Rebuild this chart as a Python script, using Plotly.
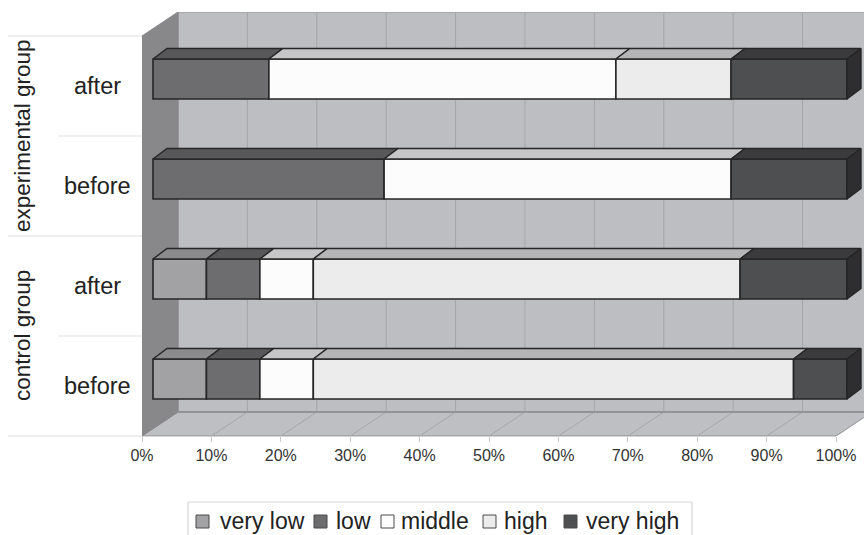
import plotly.graph_objects as go

# ---- data -----------------------------------------------------------------
row_labels = ["before", "after", "before", "after"]          # bottom -> top
group_labels = ["control group", "experimental group"]
series_names = ["very low", "low", "middle", "high", "very high"]

very_low = [7.7, 7.7, 0.0, 0.0]
low = [7.7, 7.7, 33.3, 16.7]
middle = [7.7, 7.7, 50.0, 50.0]
high = [69.2, 61.5, 0.0, 16.6]
very_high = [7.7, 15.4, 16.7, 16.7]

tick_values = [0, 10, 20, 30, 40, 50, 60, 70, 80, 90, 100]
tick_labels = [f"{v}%" for v in tick_values]

# ---- styling --------------------------------------------------------------
front_colors = ["#a2a2a5", "#6d6d6f", "#fcfcfc", "#ececec", "#4e4f51"]
top_colors = ["#8b8b8e", "#58585a", "#c6c6c8", "#b5b5b7", "#3b3b3d"]
side_color = "#2e2d2f"
edge_color = "#262626"
FONT = "Liberation Sans, Arial, sans-serif"
TEXT_COL = "#222222"

W, H = 864, 535
ML, MR, MT, MB = 142, 0, 12, 99
PW, PH = W - ML - MR, H - MT - MB
SX = 6.94          # pixels per percent
SY = 100.0         # pixels per category row
XMAX = PW / SX
YMAX = PH / SY

# oblique depth offsets (in data units)
WALL_DX, WALL_DY = 36 / SX, 24 / SY     # back wall depth
FRONT_DX, FRONT_DY = 11 / SX, 7 / SY    # bar front plane
BAR_DX, BAR_DY = 14 / SX, 10.5 / SY     # bar depth
BAR_H = 40 / SY

series = [very_low, low, middle, high, very_high]
n_rows = len(row_labels)
centers = [i + 0.5 for i in range(n_rows)]


def px_x(p):
    return (p - ML) / PW


def px_y(p):
    return (H - MB - p) / PH


fig = go.Figure()

# ---- front faces of the stacked bars --------------------------------------
starts = [0.0] * n_rows
seg_bounds = []
for name, vals, fc in zip(series_names, series, front_colors):
    bases = list(starts)
    fig.add_trace(go.Bar(
        orientation="h",
        y=[c + FRONT_DY for c in centers],
        x=[v if v > 0 else None for v in vals],
        base=[b + FRONT_DX for b in bases],
        width=BAR_H,
        marker=dict(color=fc, line=dict(color=edge_color, width=1.6)),
        name=name, showlegend=False, hoverinfo="skip",
    ))
    seg_bounds.append([(b, b + v) for b, v in zip(bases, vals)])
    starts = [b + v for b, v in zip(bases, vals)]

# ---- top faces ------------------------------------------------------------
for k, tc in enumerate(top_colors):
    xs, ys = [], []
    for r, (a, b) in enumerate(seg_bounds[k]):
        if b - a <= 0:
            continue
        y_top = centers[r] + FRONT_DY + BAR_H / 2
        x0, x1 = a + FRONT_DX, b + FRONT_DX
        xs += [x0, x1, x1 + BAR_DX, x0 + BAR_DX, x0, None]
        ys += [y_top, y_top, y_top + BAR_DY, y_top + BAR_DY, y_top, None]
    fig.add_trace(go.Scatter(
        x=xs, y=ys, mode="lines", fill="toself", fillcolor=tc,
        line=dict(color=edge_color, width=1.4),
        showlegend=False, hoverinfo="skip",
    ))

# ---- right end faces ------------------------------------------------------
xs, ys = [], []
for r in range(n_rows):
    end = starts[r] + FRONT_DX
    y_bot = centers[r] + FRONT_DY - BAR_H / 2
    y_top = centers[r] + FRONT_DY + BAR_H / 2
    xs += [end, end, end + BAR_DX, end + BAR_DX, end, None]
    ys += [y_bot, y_top, y_top + BAR_DY, y_bot + BAR_DY, y_bot, None]
fig.add_trace(go.Scatter(
    x=xs, y=ys, mode="lines", fill="toself", fillcolor=side_color,
    line=dict(color=edge_color, width=1.4),
    showlegend=False, hoverinfo="skip",
))

# ---- walls, floor and gridlines -------------------------------------------
shapes = []
wall_fill = "#bdbec2"
floor_fill = "#bebfc3"
side_wall = "#88888b"
grid_col = "#a5a5a9"
rim_col = "#8f8f92"

# back wall
shapes.append(dict(type="rect", xref="x", yref="y", layer="below",
                   x0=WALL_DX, x1=100 + WALL_DX, y0=WALL_DY, y1=n_rows + WALL_DY,
                   fillcolor=wall_fill, line=dict(color=rim_col, width=1)))
# floor
shapes.append(dict(type="path", xref="x", yref="y", layer="below",
                   path=f"M0,0 L100,0 L{100 + WALL_DX},{WALL_DY} L{WALL_DX},{WALL_DY} Z",
                   fillcolor=floor_fill, line=dict(color=rim_col, width=1)))
# left wall
shapes.append(dict(type="path", xref="x", yref="y", layer="below",
                   path=f"M0,0 L0,{n_rows} L{WALL_DX},{n_rows + WALL_DY} L{WALL_DX},{WALL_DY} Z",
                   fillcolor=side_wall, line=dict(color=side_wall, width=1)))
# gridlines on the back wall and floor
for v in tick_values[1:]:
    shapes.append(dict(type="line", xref="x", yref="y", layer="below",
                       x0=v + WALL_DX, x1=v + WALL_DX, y0=WALL_DY, y1=n_rows + WALL_DY,
                       line=dict(color=grid_col, width=1)))
    shapes.append(dict(type="line", xref="x", yref="y", layer="below",
                       x0=v, x1=v + WALL_DX, y0=0, y1=WALL_DY,
                       line=dict(color=grid_col, width=1)))
# floor / back wall seam
shapes.append(dict(type="line", xref="x", yref="y", layer="below",
                   x0=WALL_DX, x1=100 + WALL_DX, y0=WALL_DY, y1=WALL_DY,
                   line=dict(color=rim_col, width=1.5)))
# front edge of the floor
shapes.append(dict(type="line", xref="x", yref="paper", layer="below",
                   x0=0, x1=100, y0=0, y1=0,
                   line=dict(color="#a9a9ac", width=1.2)))

# category separators on the left
for i in range(n_rows + 1):
    x_start = 8 if i % 2 == 0 else 58
    shapes.append(dict(type="line", xref="paper", yref="paper",
                       x0=px_x(x_start), x1=0, y0=i / YMAX, y1=i / YMAX,
                       line=dict(color="#dedede", width=1)))

annotations = []
for c, lab in zip(centers, row_labels):
    annotations.append(dict(xref="paper", yref="y", x=px_x(97), y=c,
                            text=lab, showarrow=False, xanchor="center",
                            yanchor="middle",
                            font=dict(family=FONT, size=23.5, color=TEXT_COL)))
for g, lab in enumerate(group_labels):
    annotations.append(dict(xref="paper", yref="y", x=px_x(22), y=2 * g + 1,
                            text=lab, showarrow=False, textangle=-90,
                            xanchor="center", yanchor="middle",
                            font=dict(family=FONT, size=22.5, color=TEXT_COL)))

# ---- legend ---------------------------------------------------------------
shapes.append(dict(type="rect", xref="paper", yref="paper",
                   x0=px_x(188), x1=px_x(692), y0=px_y(548), y1=px_y(502),
                   line=dict(color="#d8d8d8", width=1.2), fillcolor="rgba(0,0,0,0)"))
legend_sq = [196, 314, 381, 483, 564]
legend_tx = [218, 334, 399, 502, 584]
for name, fc, sx, tx in zip(series_names, front_colors, legend_sq, legend_tx):
    shapes.append(dict(type="rect", xref="paper", yref="paper",
                       x0=px_x(sx), x1=px_x(sx + 13), y0=px_y(528), y1=px_y(515),
                       fillcolor=fc, line=dict(color="#4a4a4a", width=1)))
    annotations.append(dict(xref="paper", yref="paper", x=px_x(tx), y=px_y(521),
                            text=name, showarrow=False, xanchor="left",
                            yanchor="middle",
                            font=dict(family=FONT, size=23, color=TEXT_COL)))

fig.update_layout(
    width=W, height=H,
    margin=dict(l=ML, r=MR, t=MT, b=MB, pad=0),
    paper_bgcolor="white", plot_bgcolor="white",
    barmode="overlay",
    showlegend=False,
    shapes=shapes, annotations=annotations,
    xaxis=dict(range=[0, XMAX], tickvals=tick_values, ticktext=tick_labels,
               ticks="outside", ticklen=5, tickcolor="#c8c8c8",
               showgrid=False, zeroline=False, showline=False, fixedrange=True,
               tickfont=dict(family=FONT, size=16, color="#333333")),
    yaxis=dict(range=[0, YMAX], visible=False, fixedrange=True),
)

fig.write_html("out.html")
